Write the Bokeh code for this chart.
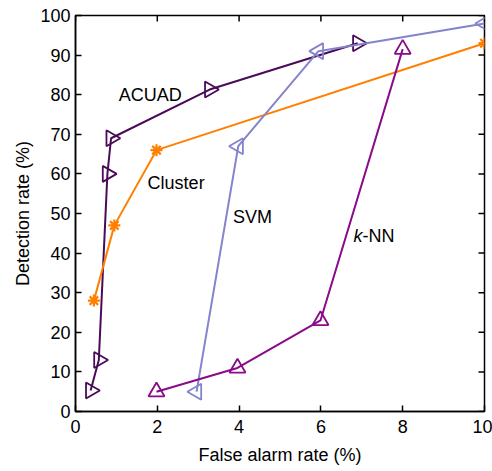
import math
from bokeh.plotting import figure
from bokeh.models import Range1d, FixedTicker, Label
from bokeh.embed import file_html
from bokeh.resources import INLINE

# Data
acuad_x = [0.37, 0.57, 0.78, 0.87, 3.28, 6.9]
acuad_y = [5.3, 13, 60, 69, 81.3, 93]
cluster_x = [0.45, 0.95, 1.98, 10]
cluster_y = [28, 47, 66, 93]
svm_x = [2.96, 3.98, 5.94, 10]
svm_y = [5, 67, 91, 98]
knn_x = [1.98, 3.96, 5.99, 8]
knn_y = [5, 11, 23, 91.5]
x_ticks = [0, 2, 4, 6, 8, 10]
y_ticks = [0, 10, 20, 30, 40, 50, 60, 70, 80, 90, 100]
X_MIN, X_MAX = 0, 10
Y_MIN, Y_MAX = 0, 100

FONT = "Liberation Sans"
C_ACUAD = "#4a0a58"
C_CLUSTER = "#ff8000"
C_SVM = "#8484cc"
C_KNN = "#8a0a8a"

p = figure(frame_width=409, frame_height=396,
           min_border_left=75, min_border_right=8, min_border_top=15, min_border_bottom=58,
           x_range=Range1d(X_MIN, X_MAX), y_range=Range1d(Y_MIN, Y_MAX),
           output_backend="svg", toolbar_location=None,
           background_fill_color="white", border_fill_color="white")
p.grid.visible = False
p.outline_line_color = "black"
p.outline_line_width = 1.5

for ax in (p.xaxis[0], p.yaxis[0]):
    ax.axis_line_color = "black"
    ax.axis_line_width = 1.5
    ax.major_tick_in = 6
    ax.major_tick_out = 0
    ax.major_tick_line_width = 1.5
    ax.minor_tick_line_color = None
    ax.major_label_text_font = FONT
    ax.major_label_text_font_size = "18px"
    ax.major_label_text_color = "black"
    ax.axis_label_text_font = FONT
    ax.axis_label_text_font_size = "18px"
    ax.axis_label_text_font_style = "normal"
    ax.axis_label_text_color = "black"

p.xaxis.ticker = FixedTicker(ticks=x_ticks)
p.yaxis.ticker = FixedTicker(ticks=y_ticks)
p.xaxis.axis_label = "False alarm rate (%)"
p.yaxis.axis_label = "Detection rate (%)"
p.xaxis.major_label_standoff = 8
p.xaxis.axis_label_standoff = 9
p.yaxis.major_label_standoff = 5
p.yaxis.axis_label_standoff = 4

# Mirrored ticks on the top and right borders
p.ray(x=x_ticks, y=[Y_MAX] * len(x_ticks), length=6, length_units="screen",
      angle=-math.pi / 2, line_color="black", line_width=1.5)
p.ray(x=[X_MAX] * len(y_ticks), y=y_ticks, length=6, length_units="screen",
      angle=math.pi, line_color="black", line_width=1.5)

# Series
p.line(acuad_x, acuad_y, line_color=C_ACUAD, line_width=2)
p.scatter(acuad_x, acuad_y, marker="triangle", size=16, angle=-math.pi / 2,
          fill_color=None, line_color=C_ACUAD, line_width=1.8)

p.line(cluster_x, cluster_y, line_color=C_CLUSTER, line_width=2)
p.scatter(cluster_x, cluster_y, marker="asterisk", size=12,
          line_color=C_CLUSTER, line_width=2.2)

p.line(svm_x, svm_y, line_color=C_SVM, line_width=2)
p.scatter(svm_x, svm_y, marker="triangle", size=16, angle=math.pi / 2,
          fill_color=None, line_color=C_SVM, line_width=1.8)

p.line(knn_x, knn_y, line_color=C_KNN, line_width=2)
p.scatter(knn_x, knn_y, marker="triangle", size=16,
          fill_color=None, line_color=C_KNN, line_width=1.8)

def lab(text, x, y, align="center", style="normal"):
    p.add_layout(Label(x=x, y=y, text=text, text_font=FONT, text_font_size="18px",
                       text_align=align, text_baseline="middle",
                       text_font_style=style, text_color="black"))

lab("ACUAD", 1.83, 79.8)
lab("Cluster", 2.46, 57.8)
lab("SVM", 4.33, 49)
lab("k", 7.02, 44.2, align="right", style="italic")
lab("-NN", 7.02, 44.2, align="left")

open("out.html", "w").write(file_html(p, INLINE))
